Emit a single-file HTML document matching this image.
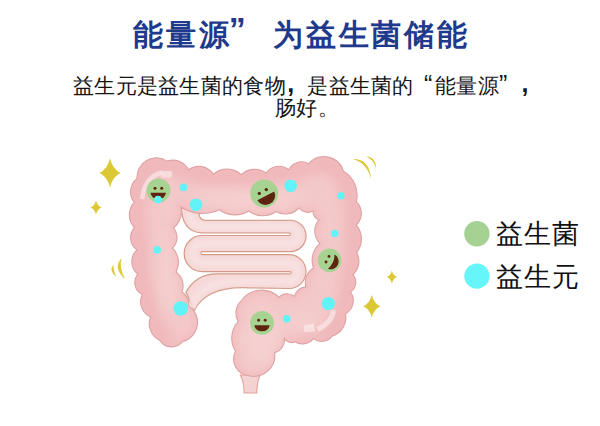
<!DOCTYPE html>
<html><head><meta charset="utf-8">
<style>
html,body{margin:0;padding:0;background:#fff;}
body{width:600px;height:426px;position:relative;overflow:hidden;font-family:"Liberation Sans",sans-serif;}
.t{position:absolute;white-space:nowrap;line-height:1;}
#title{left:133px;top:20px;font-size:30px;letter-spacing:2.9px;font-weight:bold;color:#1f3a8c;}
#sub1{left:73px;top:75px;font-size:21px;letter-spacing:0.3px;color:#151515;}
#sub2{left:275px;top:97px;font-size:21px;letter-spacing:0.3px;color:#151515;}
.q{display:inline-block;width:1em;line-height:0;}
.ql{text-align:right;}
.qr{text-align:left;}
.cm{text-align:left;font-weight:bold;}
#sub1 .q{width:21.3px;font-size:25px;box-sizing:border-box;}
#sub1 .cm{padding-left:1.3px;position:relative;top:-1.5px;}
#sub1 .ql{padding-right:2.5px;}
#title .q{width:30px;font-size:34px;box-sizing:border-box;position:relative;left:-3px;top:-4px;}
#leg1{left:496px;top:221px;font-size:27px;letter-spacing:0.75px;color:#111;}
#leg2{left:496px;top:263.5px;font-size:27px;letter-spacing:0.75px;color:#111;}
svg{position:absolute;left:0;top:0;}
</style></head><body>
<div class="t" id="title">能量源<span class="q qr">”</span><span style="display:inline-block;width:11px"></span>为益生菌储能</div>
<div class="t" id="sub1">益生元是益生菌的食物<span class="q cm">,</span>是益生菌的<span class="q ql">“</span>能量源<span class="q qr">”</span><span class="q cm">,</span></div>
<div class="t" id="sub2">肠好。</div>
<div class="t" id="leg1">益生菌</div>
<div class="t" id="leg2">益生元</div>
<svg width="600" height="426" viewBox="0 0 600 426">
<defs>
<clipPath id="liclip"><path d="M160.0 340.4 A18.4 18.4 0 0 1 150.5 317.0 A17.0 17.0 0 0 1 142.2 294.4 A13.2 13.2 0 0 1 137.8 274.2 A16.3 16.3 0 0 1 136.9 249.8 A15.2 15.2 0 0 1 134.5 227.4 A18.3 18.3 0 0 1 134.2 202.3 A16.5 16.5 0 0 1 137.0 178.8 A19.5 19.5 0 0 1 167.3 161.1 A17.4 17.4 0 0 1 188.5 169.8 A17.2 17.2 0 0 1 213.3 174.3 A20.6 20.6 0 0 1 241.3 174.7 A19.3 19.3 0 0 1 266.0 173.0 A15.7 15.7 0 0 1 288.7 169.7 A14.4 14.4 0 0 1 308.7 163.7 A20.2 20.2 0 0 1 343.4 171.1 A27.7 27.7 0 0 1 356.3 201.6 A16.3 16.3 0 0 1 356.3 225.1 A21.0 21.0 0 0 1 356.6 252.3 A17.8 17.8 0 0 1 352.9 274.5 A11.5 11.5 0 0 1 350.5 291.8 A15.4 15.4 0 0 1 345.5 314.0 A19.3 19.3 0 0 1 332.0 336.1 A12.9 12.9 0 0 1 313.5 338.6 A14.3 14.3 0 0 1 295.0 341.8 A7.9 7.9 0 0 1 284.2 337.7 A12.9 12.9 0 0 1 274.7 352.6 A21.1 21.1 0 0 1 249.0 375.8 A16.9 16.9 0 0 1 235.5 351.2 A24.7 24.7 0 0 1 238.2 321.5 A16.7 16.7 0 0 1 240.9 301.2 A24.7 24.7 0 0 1 278.8 297.2 A11.7 11.7 0 0 1 294.4 296.2 A12.3 12.3 0 0 1 306.0 286.9 A16.5 16.5 0 0 1 313.5 268.0 A22.2 22.2 0 0 1 319.9 243.4 A17.5 17.5 0 0 1 318.7 220.0 A9.8 9.8 0 0 1 313.0 211.3 A11.6 11.6 0 0 1 299.0 208.0 A18.9 18.9 0 0 1 276.0 211.5 A23.0 23.0 0 0 1 248.7 211.0 A26.3 26.3 0 0 1 219.3 209.7 A39.4 39.4 0 0 1 181.0 207.0 A22.2 22.2 0 0 1 173.5 228.0 A14.5 14.5 0 0 1 172.5 248.0 A20.4 20.4 0 0 1 176.0 272.0 A17.3 17.3 0 0 1 182.0 292.0 A16.3 16.3 0 0 1 189.0 306.0 A19.7 19.7 0 0 1 182.6 341.4 A13.7 13.7 0 0 1 160.0 340.4Z"/></clipPath>
<filter id="bl" x="-20%" y="-20%" width="140%" height="140%"><feGaussianBlur stdDeviation="4"/></filter>
<filter id="bl2" x="-20%" y="-20%" width="140%" height="140%"><feGaussianBlur stdDeviation="1.5"/></filter><filter id="bl4" x="-20%" y="-20%" width="140%" height="140%"><feGaussianBlur stdDeviation="8"/></filter><filter id="bl3" x="-20%" y="-20%" width="140%" height="140%"><feGaussianBlur stdDeviation="2.5"/></filter>
</defs>
<!-- small intestine -->
<path d="M199 203 L199 213 Q199 220.3 206 220.3 L290.35 220.3 A15.65 15.65 0 0 1 290.35 251.6 L202.5 251.6 A1.55 1.55 0 0 0 202.5 254.7 L289.1 254.7 A16.9 16.9 0 0 1 289.1 288.5 L250 287.8 Q206 285.5 194 311 L186 292 Q196 274.5 215 273.8 L290 273.8 A1.1 1.1 0 0 0 290 271.6 L202.25 271.6 A18.05 18.05 0 0 1 202.25 235.5 L289 235.5 A1.35 1.35 0 0 0 289 232.8 L202 232.8 Q181 232.5 181 203 Z" fill="#f6d8d8" stroke="#d39a86" stroke-width="1.2" stroke-linejoin="round"/>
<path d="M190 205 L190 214 Q190 226.55 204 226.55 L290 226.55 A8.5 8.5 0 0 1 290 243.55 L202.5 243.55 A9.8 9.8 0 0 0 202.5 263.15 L289.5 263.15 A9 9 0 0 1 289.5 281.15 L240 281.15 Q198 281.15 190 310" fill="none" stroke="#f9e3e3" stroke-width="6" filter="url(#bl3)"/>
<!-- rectum tube -->
<path d="M240.3 375 L260 375 Q257 382 256.8 393 L244.1 393 Q244 382 240.3 375 Z" fill="#f5d2d2" stroke="#e3a49c" stroke-width="1.1"/>
<!-- large intestine -->
<path d="M160.0 340.4 A18.4 18.4 0 0 1 150.5 317.0 A17.0 17.0 0 0 1 142.2 294.4 A13.2 13.2 0 0 1 137.8 274.2 A16.3 16.3 0 0 1 136.9 249.8 A15.2 15.2 0 0 1 134.5 227.4 A18.3 18.3 0 0 1 134.2 202.3 A16.5 16.5 0 0 1 137.0 178.8 A19.5 19.5 0 0 1 167.3 161.1 A17.4 17.4 0 0 1 188.5 169.8 A17.2 17.2 0 0 1 213.3 174.3 A20.6 20.6 0 0 1 241.3 174.7 A19.3 19.3 0 0 1 266.0 173.0 A15.7 15.7 0 0 1 288.7 169.7 A14.4 14.4 0 0 1 308.7 163.7 A20.2 20.2 0 0 1 343.4 171.1 A27.7 27.7 0 0 1 356.3 201.6 A16.3 16.3 0 0 1 356.3 225.1 A21.0 21.0 0 0 1 356.6 252.3 A17.8 17.8 0 0 1 352.9 274.5 A11.5 11.5 0 0 1 350.5 291.8 A15.4 15.4 0 0 1 345.5 314.0 A19.3 19.3 0 0 1 332.0 336.1 A12.9 12.9 0 0 1 313.5 338.6 A14.3 14.3 0 0 1 295.0 341.8 A7.9 7.9 0 0 1 284.2 337.7 A12.9 12.9 0 0 1 274.7 352.6 A21.1 21.1 0 0 1 249.0 375.8 A16.9 16.9 0 0 1 235.5 351.2 A24.7 24.7 0 0 1 238.2 321.5 A16.7 16.7 0 0 1 240.9 301.2 A24.7 24.7 0 0 1 278.8 297.2 A11.7 11.7 0 0 1 294.4 296.2 A12.3 12.3 0 0 1 306.0 286.9 A16.5 16.5 0 0 1 313.5 268.0 A22.2 22.2 0 0 1 319.9 243.4 A17.5 17.5 0 0 1 318.7 220.0 A9.8 9.8 0 0 1 313.0 211.3 A11.6 11.6 0 0 1 299.0 208.0 A18.9 18.9 0 0 1 276.0 211.5 A23.0 23.0 0 0 1 248.7 211.0 A26.3 26.3 0 0 1 219.3 209.7 A39.4 39.4 0 0 1 181.0 207.0 A22.2 22.2 0 0 1 173.5 228.0 A14.5 14.5 0 0 1 172.5 248.0 A20.4 20.4 0 0 1 176.0 272.0 A17.3 17.3 0 0 1 182.0 292.0 A16.3 16.3 0 0 1 189.0 306.0 A19.7 19.7 0 0 1 182.6 341.4 A13.7 13.7 0 0 1 160.0 340.4Z" fill="#f4c9ca"/>
<g clip-path="url(#liclip)">
<path d="M165 350 L150.5 317 L142.2 294.4 L137.8 274.2 L136.9 249.8 L134.5 227.4 L134.2 202.3 L137 178.8 L150 160 L167.3 161.1 L188.5 169.8 L213.3 174.3 L241.3 174.7 L266 173 L288.7 169.7 L308.7 163.7 L328 158 L343.4 171.1 L356.3 201.6 L356.3 225.1 L356.6 252.3 L352.9 274.5 L350.5 291.8 L345.5 314 L332 336.1 L313.5 338.6 L295 341.8" fill="none" stroke="#efb3b7" stroke-width="20" stroke-linejoin="round" filter="url(#bl4)"/>
<path d="M160.0 340.4 A18.4 18.4 0 0 1 150.5 317.0 A17.0 17.0 0 0 1 142.2 294.4 A13.2 13.2 0 0 1 137.8 274.2 A16.3 16.3 0 0 1 136.9 249.8 A15.2 15.2 0 0 1 134.5 227.4 A18.3 18.3 0 0 1 134.2 202.3 A16.5 16.5 0 0 1 137.0 178.8 A19.5 19.5 0 0 1 167.3 161.1 A17.4 17.4 0 0 1 188.5 169.8 A17.2 17.2 0 0 1 213.3 174.3 A20.6 20.6 0 0 1 241.3 174.7 A19.3 19.3 0 0 1 266.0 173.0 A15.7 15.7 0 0 1 288.7 169.7 A14.4 14.4 0 0 1 308.7 163.7 A20.2 20.2 0 0 1 343.4 171.1 A27.7 27.7 0 0 1 356.3 201.6 A16.3 16.3 0 0 1 356.3 225.1 A21.0 21.0 0 0 1 356.6 252.3 A17.8 17.8 0 0 1 352.9 274.5 A11.5 11.5 0 0 1 350.5 291.8 A15.4 15.4 0 0 1 345.5 314.0 A19.3 19.3 0 0 1 332.0 336.1 A12.9 12.9 0 0 1 313.5 338.6 A14.3 14.3 0 0 1 295.0 341.8 A7.9 7.9 0 0 1 284.2 337.7 A12.9 12.9 0 0 1 274.7 352.6 A21.1 21.1 0 0 1 249.0 375.8 A16.9 16.9 0 0 1 235.5 351.2 A24.7 24.7 0 0 1 238.2 321.5 A16.7 16.7 0 0 1 240.9 301.2 A24.7 24.7 0 0 1 278.8 297.2 A11.7 11.7 0 0 1 294.4 296.2 A12.3 12.3 0 0 1 306.0 286.9 A16.5 16.5 0 0 1 313.5 268.0 A22.2 22.2 0 0 1 319.9 243.4 A17.5 17.5 0 0 1 318.7 220.0 A9.8 9.8 0 0 1 313.0 211.3 A11.6 11.6 0 0 1 299.0 208.0 A18.9 18.9 0 0 1 276.0 211.5 A23.0 23.0 0 0 1 248.7 211.0 A26.3 26.3 0 0 1 219.3 209.7 A39.4 39.4 0 0 1 181.0 207.0 A22.2 22.2 0 0 1 173.5 228.0 A14.5 14.5 0 0 1 172.5 248.0 A20.4 20.4 0 0 1 176.0 272.0 A17.3 17.3 0 0 1 182.0 292.0 A16.3 16.3 0 0 1 189.0 306.0 A19.7 19.7 0 0 1 182.6 341.4 A13.7 13.7 0 0 1 160.0 340.4Z" fill="none" stroke="#f1bbbd" stroke-width="7" filter="url(#bl)"/>
<g fill="#f6d1d1" filter="url(#bl4)" opacity="0.9">
<ellipse cx="262" cy="340" rx="16" ry="26"/>
<ellipse cx="250" cy="200" rx="55" ry="8"/>
<ellipse cx="168" cy="275" rx="7" ry="45"/>
<ellipse cx="305" cy="325" rx="20" ry="8"/>
</g>
</g>
<path d="M160.0 340.4 A18.4 18.4 0 0 1 150.5 317.0 A17.0 17.0 0 0 1 142.2 294.4 A13.2 13.2 0 0 1 137.8 274.2 A16.3 16.3 0 0 1 136.9 249.8 A15.2 15.2 0 0 1 134.5 227.4 A18.3 18.3 0 0 1 134.2 202.3 A16.5 16.5 0 0 1 137.0 178.8 A19.5 19.5 0 0 1 167.3 161.1 A17.4 17.4 0 0 1 188.5 169.8 A17.2 17.2 0 0 1 213.3 174.3 A20.6 20.6 0 0 1 241.3 174.7 A19.3 19.3 0 0 1 266.0 173.0 A15.7 15.7 0 0 1 288.7 169.7 A14.4 14.4 0 0 1 308.7 163.7 A20.2 20.2 0 0 1 343.4 171.1 A27.7 27.7 0 0 1 356.3 201.6 A16.3 16.3 0 0 1 356.3 225.1 A21.0 21.0 0 0 1 356.6 252.3 A17.8 17.8 0 0 1 352.9 274.5 A11.5 11.5 0 0 1 350.5 291.8 A15.4 15.4 0 0 1 345.5 314.0 A19.3 19.3 0 0 1 332.0 336.1 A12.9 12.9 0 0 1 313.5 338.6 A14.3 14.3 0 0 1 295.0 341.8 A7.9 7.9 0 0 1 284.2 337.7 A12.9 12.9 0 0 1 274.7 352.6 A21.1 21.1 0 0 1 249.0 375.8 A16.9 16.9 0 0 1 235.5 351.2 A24.7 24.7 0 0 1 238.2 321.5 A16.7 16.7 0 0 1 240.9 301.2 A24.7 24.7 0 0 1 278.8 297.2 A11.7 11.7 0 0 1 294.4 296.2 A12.3 12.3 0 0 1 306.0 286.9 A16.5 16.5 0 0 1 313.5 268.0 A22.2 22.2 0 0 1 319.9 243.4 A17.5 17.5 0 0 1 318.7 220.0 A9.8 9.8 0 0 1 313.0 211.3 A11.6 11.6 0 0 1 299.0 208.0 A18.9 18.9 0 0 1 276.0 211.5 A23.0 23.0 0 0 1 248.7 211.0 A26.3 26.3 0 0 1 219.3 209.7 A39.4 39.4 0 0 1 181.0 207.0 A22.2 22.2 0 0 1 173.5 228.0 A14.5 14.5 0 0 1 172.5 248.0 A20.4 20.4 0 0 1 176.0 272.0 A17.3 17.3 0 0 1 182.0 292.0 A16.3 16.3 0 0 1 189.0 306.0 A19.7 19.7 0 0 1 182.6 341.4 A13.7 13.7 0 0 1 160.0 340.4Z" fill="none" stroke="#dfa2a3" stroke-width="1.1"/>
<!-- highlights -->
<g fill="none" stroke="#fdeeee" stroke-opacity="0.6" stroke-width="3.6" stroke-linecap="butt">
<path d="M162 172.5 Q145 176.5 142 199" stroke-width="4.6"/>
<path d="M333.6 310 Q332.5 322 317.5 329.5" stroke-width="5"/>
</g>
<g fill="#fdeeee" fill-opacity="0.6">
<path d="M160.8 171 L172.4 171 L171.5 177.4 L161.5 177.4Z"/>
<path d="M303.5 325.5 L313.8 323.5 L315.2 331.5 L304 332Z"/>
</g>
<!-- smileys -->
<g fill="#a6d392">
<circle cx="158.45" cy="190.5" r="12"/>
<circle cx="264.2" cy="193.5" r="14"/>
<circle cx="329.6" cy="260.3" r="11.85"/>
<circle cx="262" cy="322.9" r="11.9"/>
</g>
<g fill="#5e2410">
<circle cx="155" cy="188.3" r="1.5"/><circle cx="161.7" cy="188.3" r="1.5"/>
<path d="M150.5 192.8 L166 192.8 Q165 199 158.2 199 Q151.5 199 150.5 192.8Z"/>
<circle cx="259.3" cy="193.4" r="1.7"/><circle cx="266.3" cy="189.6" r="1.7"/>
<path d="M257.4 200.2 L274.2 191.5 A9.3 8.8 -27 0 1 257.4 200.2Z"/>
<circle cx="329" cy="256.4" r="1.45"/><circle cx="326" cy="262" r="1.45"/>
<path d="M334.6 254.5 Q334.5 263 328 268.8 A7.9 7.9 -66 0 0 334.6 254.5Z"/>
<circle cx="258.6" cy="320.3" r="1.45"/><circle cx="265.2" cy="320.3" r="1.45"/>
<path d="M254.3 325.2 L269.7 325.2 Q268.5 331.2 262 331.2 Q255.5 331.2 254.3 325.2Z"/>
</g>
<!-- cyan dots -->
<g fill="#62f3f9">
<circle cx="158" cy="199.6" r="3.9"/><circle cx="183.5" cy="187.3" r="3.9"/><circle cx="196" cy="204.8" r="6.3"/>
<circle cx="290.7" cy="185.8" r="6.3"/><circle cx="341" cy="195.8" r="3.7"/><circle cx="334.7" cy="233.5" r="3.7"/>
<circle cx="328.3" cy="303.5" r="6.6"/><circle cx="286.8" cy="318.8" r="3.8"/><circle cx="157.2" cy="249.9" r="3.8"/>
<circle cx="180.7" cy="308.5" r="7.3"/>
</g>
<!-- sparkles -->
<g fill="#dcc834">
<path d="M110.0 158.3 Q112.5 169.4 120.6 172.9 Q112.5 176.4 110.0 187.5 Q107.5 176.4 99.4 172.9 Q107.5 169.4 110.0 158.3Z"/>
<path d="M96.0 200.4 Q97.3 205.7 101.6 207.4 Q97.3 209.1 96.0 214.4 Q94.7 209.1 90.4 207.4 Q94.7 205.7 96.0 200.4Z"/>
<path d="M391.9 270.5 Q393.1 275.5 397.0 277.1 Q393.1 278.7 391.9 283.7 Q390.7 278.7 386.8 277.1 Q390.7 275.5 391.9 270.5Z"/>
<path d="M371.8 294.9 Q373.9 303.5 380.4 306.2 Q373.9 308.9 371.8 317.5 Q369.7 308.9 363.2 306.2 Q369.7 303.5 371.8 294.9Z"/>
<path d="M121.6 258.2 Q112.5 268 125.3 279.3 Q118.6 268 121.6 258.2Z"/>
<path d="M113.7 264.5 Q108.3 270.5 116.4 276.7 Q112.8 270 113.7 264.5Z"/>
<path d="M352.8 158.9 Q369.5 158.5 371.1 179.3 Q367.3 163 352.8 158.9Z"/>
<path d="M365.9 156.3 Q376.5 157.5 375.9 168.4 Q374.3 160.1 365.9 156.3Z"/>
</g>
<!-- legend -->
<circle cx="476.9" cy="233.7" r="12.7" fill="#a5d192"/>
<circle cx="476.9" cy="276.2" r="12.6" fill="#66f6f9"/>
</svg>
</body></html>
